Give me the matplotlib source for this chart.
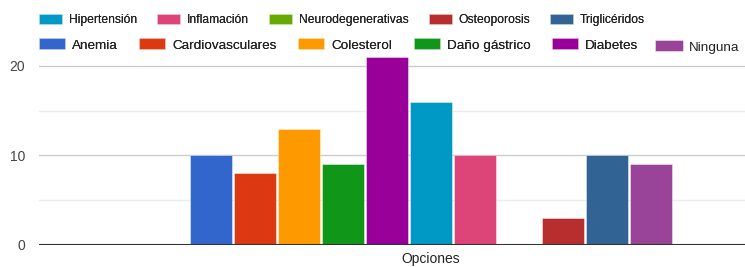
import numpy as np
import matplotlib
matplotlib.use("Agg")
import matplotlib.pyplot as plt

plt.rcParams['font.family'] = ['Liberation Sans', 'DejaVu Sans']

category = "Opciones"
series = ["Anemia", "Cardiovasculares", "Colesterol", "Daño gástrico", "Diabetes",
          "Hipertensión", "Inflamación", "Neurodegenerativas", "Osteoporosis",
          "Triglicéridos", "Ninguna"]
values = [10, 8, 13, 9, 21, 16, 10, 0, 3, 10, 9]
colors = ["#3366CC", "#DC3912", "#FF9900", "#109618", "#990099", "#0099C6",
          "#DD4477", "#66AA00", "#B82E2E", "#316395", "#994499"]
# legend rows as shown in the picture
row1 = ["Hipertensión", "Inflamación", "Neurodegenerativas", "Osteoporosis", "Triglicéridos"]
row2 = ["Anemia", "Cardiovasculares", "Colesterol", "Daño gástrico", "Diabetes"]
row2_last = ["Ninguna"]

W, H = 745, 267
fig = plt.figure(figsize=(W / 100, H / 100), dpi=100)
ax = fig.add_axes([39 / W, 22 / H, 1 - 39 / W, 197 / H])

n = len(series)
offs = np.arange(n) - (n - 1) / 2
handles = {}
for o, name, v, c in zip(offs, series, values, colors):
    b = ax.bar(o, v, width=0.96, color=c, edgecolor=(1, 1, 1, 0.5), linewidth=0.6,
               label=name, zorder=3)
    handles[name] = b

ax.set_xlim(-8.91, 7.14)
ax.set_ylim(0, 22)
ax.set_yticks([0, 10, 20])
ax.set_yticks([5, 15], minor=True)
ax.grid(axis='y', which='major', color='#cccccc', linewidth=1, zorder=0)
ax.grid(axis='y', which='minor', color='#ebebeb', linewidth=1, zorder=0)
ax.axhline(0, color='#333333', linewidth=1.5, zorder=4)
ax.set_xticks([0])
ax.set_xticklabels([category])
ax.tick_params(axis='x', length=0, pad=5, labelsize=10, labelcolor='#222222')
ax.tick_params(axis='y', which='both', length=0, pad=10, labelsize=10, labelcolor='#444444')
for s in ax.spines.values():
    s.set_visible(False)

leg1 = fig.legend([handles[k] for k in row1], row1, loc='center left',
                  bbox_to_anchor=(39 / W, 1 - 20 / H), ncol=len(row1), frameon=False,
                  fontsize=8.7, handlelength=1.9, handleheight=0.83, handletextpad=0.58,
                  columnspacing=1.65, borderpad=0, borderaxespad=0, labelcolor='#222222')
fig.add_artist(leg1)
leg2 = fig.legend([handles[k] for k in row2], row2, loc='center left',
                  bbox_to_anchor=(39 / W, 1 - 45 / H), ncol=len(row2), frameon=False,
                  fontsize=9.7, handlelength=1.93, handleheight=0.89, handletextpad=0.52,
                  columnspacing=1.6, borderpad=0, borderaxespad=0, labelcolor='#222222')
fig.add_artist(leg2)
fig.legend([handles[k] for k in row2_last], row2_last, loc='center left',
           bbox_to_anchor=(655 / W, 1 - 47 / H), frameon=False,
           fontsize=9.7, handlelength=2.1, handleheight=0.89, handletextpad=0.4,
           borderpad=0, borderaxespad=0, labelcolor='#222222')

fig.savefig("out.png", dpi=100)
